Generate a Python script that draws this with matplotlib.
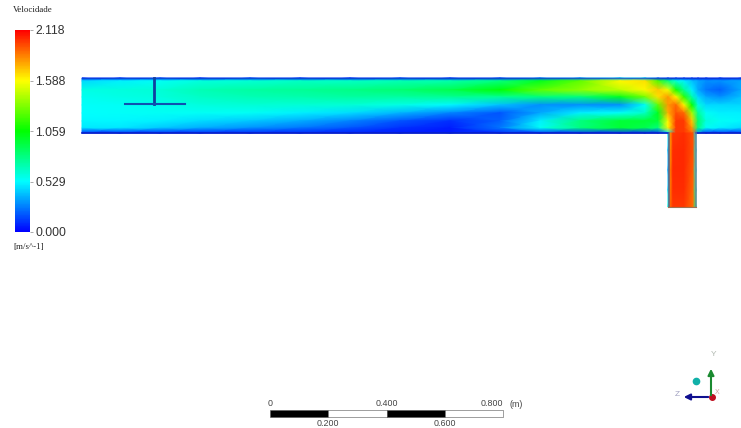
import numpy as np
import matplotlib
matplotlib.use("Agg")
import matplotlib.pyplot as plt
from matplotlib.colors import LinearSegmentedColormap

V_MAX = 2.118
legend_ticks = [0.000, 0.529, 1.059, 1.588, 2.118]

# channel samples (px position, m/s)
chan_x = [82, 120, 160, 200, 250, 300, 350, 400, 450, 500, 540, 580, 620, 645, 658, 668, 676, 684, 692, 698, 706, 720, 741]
chan_y = [78, 81, 90, 97, 105, 113, 121, 128, 133]
chan_v = [
    [.10, .12, .15, .10, .15, .12, .10, .15, .12, .15, .25, .30, .40, .40, .20, .12, .10, .10, .10, .10, .10, .10, .10],
    [.45, .50, .55, .60, .62, .65, .65, .68, .70, .80, 1.00, 1.25, 1.60, 1.65, 1.20, .80, .60, .50, .40, .35, .30, .30, .35],
    [.58, .60, .62, .68, .72, .75, .78, .82, .90, 1.05, 1.25, 1.35, 1.45, 1.60, 1.70, 1.55, 1.10, .75, .50, .35, .25, .20, .35],
    [.56, .58, .60, .65, .68, .70, .72, .72, .75, .75, .80, .80, 1.00, 1.30, 1.65, 1.80, 1.60, 1.15, .70, .45, .35, .30, .40],
    [.54, .55, .57, .60, .62, .62, .62, .58, .52, .40, .30, .30, .30, .55, 1.25, 1.80, 1.90, 1.60, 1.05, .60, .45, .45, .45],
    [.53, .54, .55, .55, .55, .50, .46, .38, .28, .18, .35, .50, .55, .65, 1.00, 1.75, 1.95, 1.90, 1.40, .75, .55, .50, .50],
    [.52, .52, .50, .46, .42, .36, .28, .18, .10, .20, .50, .80, .95, .95, .95, 1.60, 2.00, 2.00, 1.70, .85, .60, .55, .52],
    [.48, .48, .42, .36, .30, .24, .18, .10, .06, .25, .55, .80, .95, .90, .80, 1.60, 2.00, 2.00, 1.80, .80, .55, .50, .45],
    [.08, .08, .08, .08, .08, .08, .06, .05, .05, .08, .10, .10, .10, .10, .10, .50, 2.00, 2.00, 1.90, .30, .10, .10, .10],
]

# outlet pipe samples
pipe_x = [668, 670, 673, 684, 693, 696]
pipe_y = [133, 150, 170, 190, 207]
pipe_v = [
    [.50, 1.80, 2.00, 2.02, 1.95, .50],
    [.40, 1.80, 2.02, 2.03, 1.95, .55],
    [.35, 1.85, 2.03, 2.03, 1.92, .55],
    [.45, 1.85, 2.02, 2.02, 1.90, .65],
    [.60, 1.90, 2.00, 2.00, 1.88, .75],
]

scale_edges = [0, 0.2, 0.4, 0.6, 0.8]
scale_top = ["0", "0.400", "0.800"]
scale_bottom = ["0.200", "0.600"]

cfd = LinearSegmentedColormap.from_list(
    "cfd", ["#0000ff", "#00ffff", "#00ff00", "#ffff00", "#ff0000"]
)

plt.rcParams["font.family"] = ["Liberation Sans", "DejaVu Sans"]
fig = plt.figure(figsize=(7.41, 4.28), dpi=100)
ax = fig.add_axes([0, 0, 1, 1])
ax.set_xlim(0, 741)
ax.set_ylim(428, 0)
ax.axis("off")

mesh = ax.pcolormesh(chan_x, chan_y, np.array(chan_v), cmap=cfd, vmin=0, vmax=V_MAX, shading="gouraud")
ax.pcolormesh(pipe_x, pipe_y, np.array(pipe_v), cmap=cfd, vmin=0, vmax=V_MAX, shading="gouraud")

# walls and impeller
ax.plot([82, 741], [77.5, 77.5], color="#1030c0", lw=1.0, alpha=0.6)
ax.plot([82, 668], [132.5, 132.5], color="#0820c8", lw=1.2)
ax.plot([696, 741], [132.5, 132.5], color="#0820c8", lw=1.2)
ax.plot([668.5, 668.5], [133, 207], color="#505a90", lw=1.2, alpha=0.8)
ax.plot([696, 696], [133, 207], color="#707a90", lw=1.2, alpha=0.8)
ax.plot([668, 696], [207, 207], color="#a07050", lw=0.8)
ax.plot([154, 154], [78, 104], color="#1040a0", lw=2.0)
ax.plot([125, 185], [103.5, 103.5], color="#1050b0", lw=1.5)

# legend
cax = fig.add_axes([15 / 741, 1 - 232 / 428, 15 / 741, 202 / 428])
cbar = fig.colorbar(mesh, cax=cax)
cbar.outline.set_visible(False)
cbar.set_ticks(legend_ticks)
cbar.set_ticklabels([f"{t:.3f}" for t in legend_ticks])
cbar.ax.tick_params(labelsize=8.8, length=2.5, width=0.5, color="#888888", labelcolor="#333333", pad=1.5)
ax.text(13, 10, "Velocidade", family="Liberation Serif", fontsize=6.4, va="center", color="#222222")
ax.text(13, 247, "[m/s^-1]", family="Liberation Serif", fontsize=6.4, va="center", color="#222222")

# scale bar
sax = fig.add_axes([270 / 741, 1 - 417 / 428, 233 / 741, 7 / 428])
sax.set_xlim(scale_edges[0], scale_edges[-1])
sax.set_ylim(0, 1)
sax.axis("off")
for i in range(len(scale_edges) - 1):
    sax.barh(0.5, scale_edges[i + 1] - scale_edges[i], left=scale_edges[i], height=1,
             color="black" if i % 2 == 0 else "white", edgecolor="#555555", linewidth=0.4, clip_on=False)
for lab, v, align in zip(scale_top, scale_edges[0::2], ["center", "center", "right"]):
    sax.text(v, 1.35, lab, ha=align, va="bottom", fontsize=6.4, color="#444444", clip_on=False)
for lab, v in zip(scale_bottom, scale_edges[1::2]):
    sax.text(v, -0.35, lab, ha="center", va="top", fontsize=6.4, color="#444444", clip_on=False)
ax.text(510, 404.5, "(m)", fontsize=6.4, color="#444444", va="center")

# axis triad
ax.annotate("", xy=(711, 366), xytext=(711, 398),
            arrowprops=dict(arrowstyle="-|>", color="#1a8a30", lw=1.5, mutation_scale=9))
ax.annotate("", xy=(681, 397), xytext=(711, 397),
            arrowprops=dict(arrowstyle="-|>", color="#101090", lw=1.5, mutation_scale=9))
ax.plot([712], [397], "o", color="#c01020", ms=4)
ax.plot([696], [381], "o", color="#10b0a8", ms=4.5)
ax.text(714, 355, "Y", fontsize=6, color="#b0b8b0", ha="center", va="center")
ax.text(677, 394, "Z", fontsize=6, color="#a0a0c0", ha="center", va="center")
ax.text(717, 392, "X", fontsize=5, color="#d0a0a0", ha="center", va="center")

fig.savefig("out.png", dpi=100)
